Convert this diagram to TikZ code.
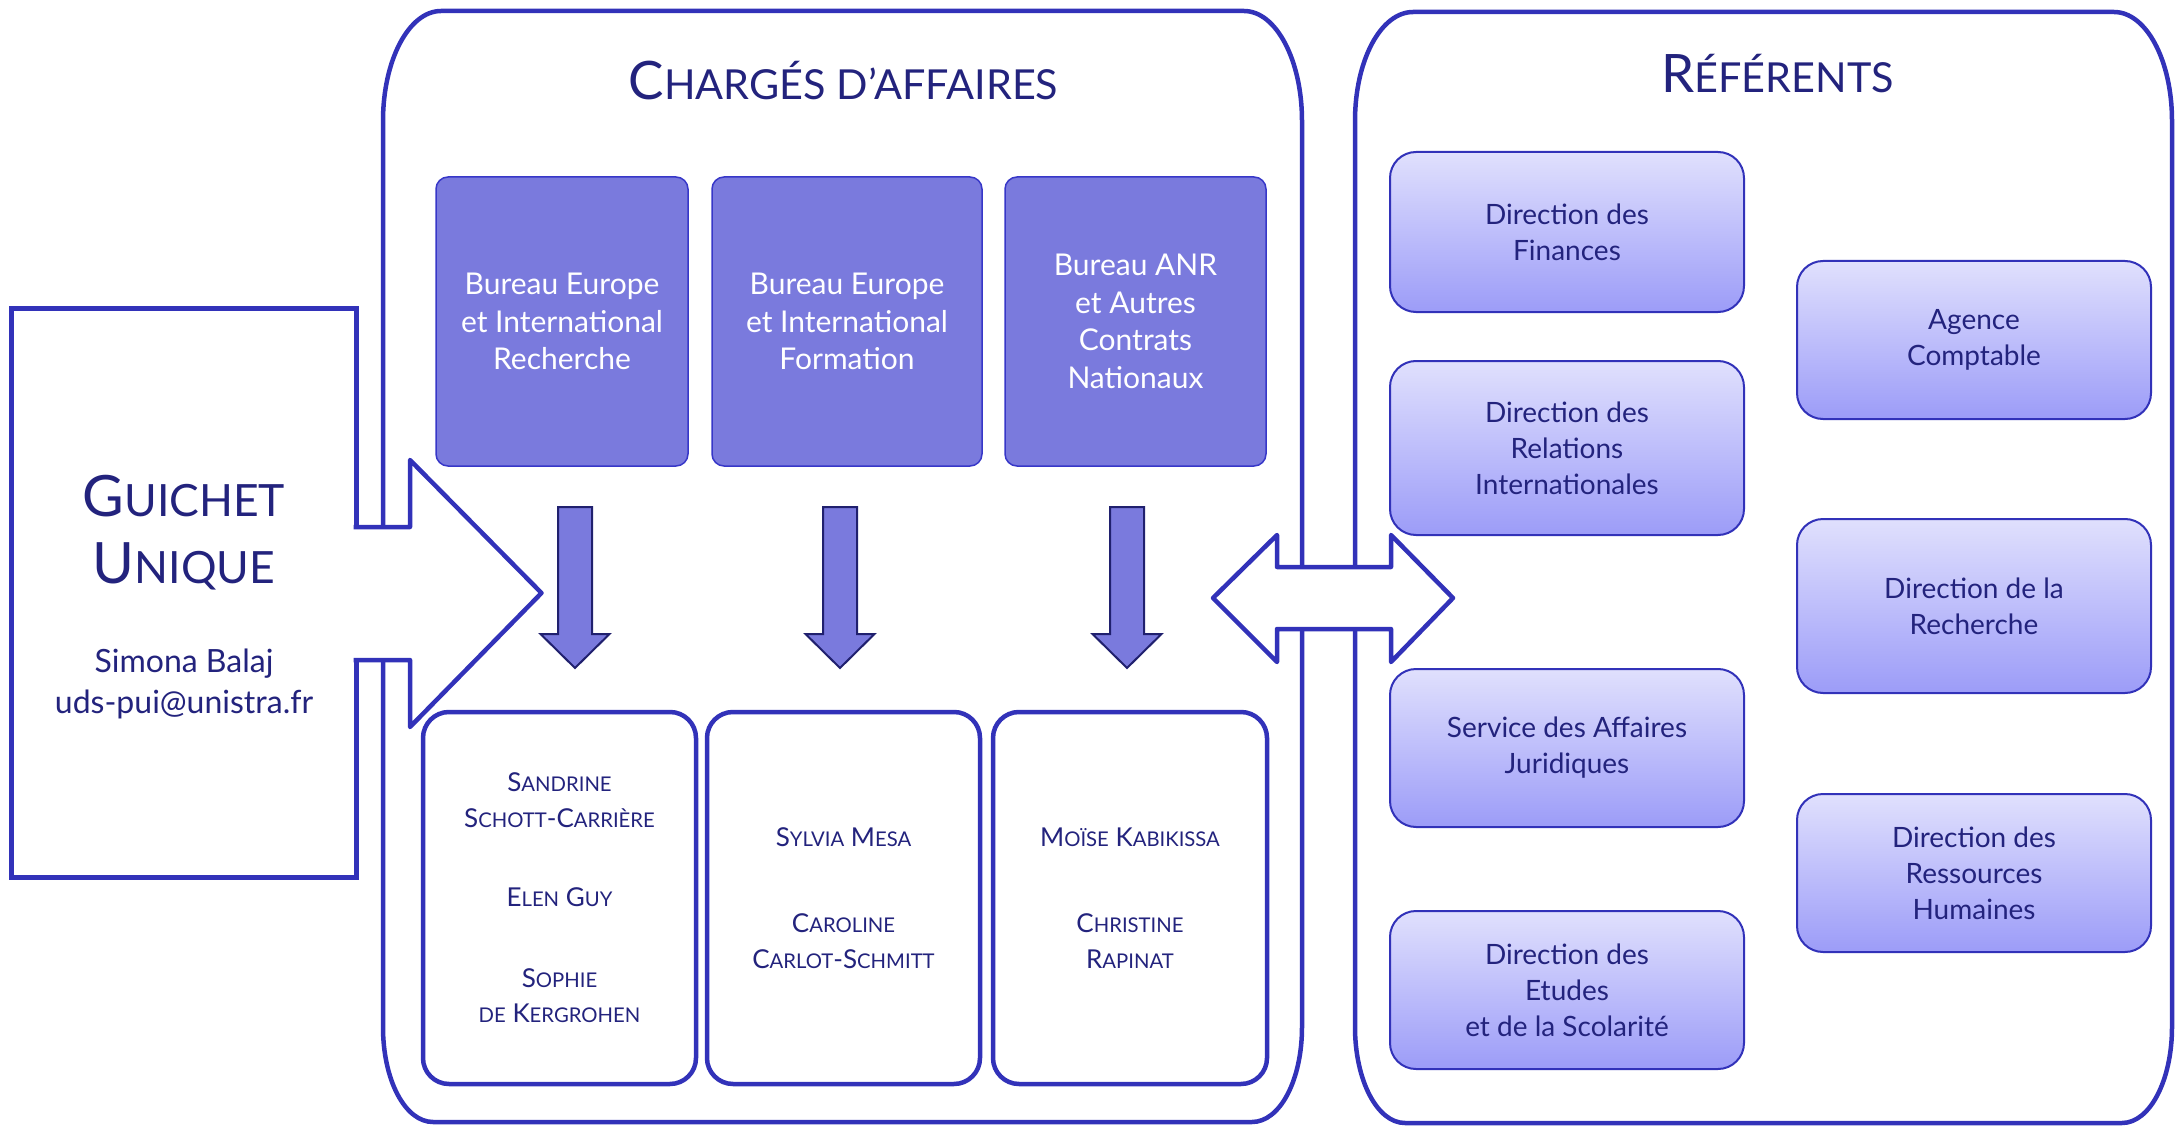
\documentclass[tikz,border=0pt]{standalone}
\usepackage{fontspec}
\setmainfont{Lato}
\newfontfamily\scf[Scale=0.78]{Lato}
\definecolor{edge}{RGB}{50,50,185}
\definecolor{navy}{RGB}{35,35,125}
\definecolor{bur}{RGB}{122,122,221}
\definecolor{buredge}{RGB}{55,55,200}
\definecolor{arredge}{RGB}{32,32,110}
\definecolor{gtop}{RGB}{224,224,253}
\definecolor{gbot}{RGB}{156,156,248}
\tikzset{
  cont/.style={draw=edge, line width=4.5pt},
  bureau/.style={draw=buredge, line width=1.5pt, fill=bur, rounded corners=12pt, align=center,
    text=white, font=\fontsize{30}{37.5}\selectfont, inner sep=0pt},
  namebox/.style={draw=edge, line width=4.5pt, fill=white, rounded corners=26pt, align=center,
    text=navy, font=\fontsize{26}{35.5}\selectfont, inner sep=0pt},
  refbox/.style={draw=edge, line width=2pt, top color=gtop, bottom color=gbot, rounded corners=26pt,
    align=center, text=navy, font=\fontsize{28}{36}\selectfont, inner sep=0pt, minimum width=354pt},
  titletext/.style={text=navy, font=\fontsize{53}{60}\selectfont, anchor=base, inner sep=0pt},
  downarrow/.style={fill=bur, draw=arredge, line width=2pt},
}
\begin{document}
\begin{tikzpicture}[x=1pt,y=-1pt]
\useasboundingbox (0,0) rectangle (2177,1126);
% containers
\draw[cont] (383,121) .. controls (383,60) and (409,11) .. (441,11) -- (1244,11)
  .. controls (1276,11) and (1302,60) .. (1302,121) -- (1302,1027)
  .. controls (1302,1080) and (1280,1122) .. (1252,1122) -- (433,1122)
  .. controls (405,1122) and (383,1080) .. (383,1027) -- cycle;
\draw[cont] (1355,121) .. controls (1355,60) and (1381,12) .. (1413,12) -- (2114,12)
  .. controls (2146,12) and (2172,60) .. (2172,121) -- (2172,1027)
  .. controls (2172,1080) and (2150,1123) .. (2122,1123) -- (1405,1123)
  .. controls (1377,1123) and (1355,1080) .. (1355,1027) -- cycle;
% titles
\node[titletext] (tca) at (843.5,100) {C{\scf HARGÉS D’AFFAIRES}};
\node[titletext] (tref) at (1777.5,93) {R{\scf ÉFÉRENTS}};
% guichet unique
\node[draw=edge, line width=5pt, fill=white, minimum width=345pt, minimum height=569pt, inner sep=0pt] (gbox) at (184,593) {};
\node[text=navy, font=\fontsize{57}{67}\selectfont, anchor=base, inner sep=0pt] (g1) at (184,516) {G{\scf UICHET}};
\node[text=navy, font=\fontsize{57}{67}\selectfont, anchor=base, inner sep=0pt] (g2) at (184,583) {U{\scf NIQUE}};
\node[text=navy, font=\fontsize{32}{40}\selectfont, anchor=base, inner sep=0pt] (g3) at (184,672) {Simona Balaj};
\node[text=navy, font=\fontsize{32}{40}\selectfont, anchor=base, inner sep=0pt] (g4) at (184,713) {uds-pui@unistra.fr};
% big arrow
\fill[white] (350,527) -- (410,527) -- (410,460) -- (541.5,593) -- (410,727) -- (410,660) -- (350,660) -- cycle;
\draw[edge, line width=4.5pt, line join=round] (353.5,527) -- (410,527) -- (410,460) -- (541.5,593) -- (410,727) -- (410,660) -- (353.5,660);
% double arrow
\filldraw[fill=white, draw=edge, line width=4.5pt, line join=round]
  (1213,598) -- (1277,535) -- (1277,567) -- (1391,567) -- (1391,535) -- (1453,598)
  -- (1391,662) -- (1391,629) -- (1277,629) -- (1277,662) -- cycle;
% bureaux
\node[bureau, minimum width=252pt, minimum height=289pt] (b1) at (562,321.5) {Bureau Europe\\et International\\Recherche};
\node[bureau, minimum width=270pt, minimum height=289pt] (b2) at (847,321.5) {Bureau Europe\\et International\\Formation};
\node[bureau, minimum width=261pt, minimum height=289pt] (b3) at (1135.5,321.5) {Bureau ANR\\et Autres\\Contrats\\Nationaux};
% down arrows
\foreach \cx in {575,840,1127}{
  \filldraw[downarrow] ({\cx-17},507) -- ({\cx+17},507) -- ({\cx+17},634) -- ({\cx+34.5},634)
    -- (\cx,668) -- ({\cx-34.5},634) -- ({\cx-17},634) -- cycle;
}
% name boxes
\node[namebox, minimum width=273pt, minimum height=372pt] (n1) at (559.5,898)
  {S{\scf ANDRINE}\\S{\scf CHOTT}-C{\scf ARRIÈRE}\\[44pt]E{\scf LEN} G{\scf UY}\\[45pt]S{\scf OPHIE}\\{\scf DE} K{\scf ERGROHEN}};
\node[namebox, minimum width=273pt, minimum height=372pt] (n2) at (843.5,898)
  {S{\scf YLVIA} M{\scf ESA}\\[51pt]C{\scf AROLINE}\\C{\scf ARLOT}-S{\scf CHMITT}};
\node[namebox, minimum width=274pt, minimum height=372pt] (n3) at (1130,898)
  {M{\scf OÏSE} K{\scf ABIKISSA}\\[51pt]C{\scf HRISTINE}\\R{\scf APINAT}};
% referents
\node[refbox, minimum height=160pt] (fin) at (1567,232) {Direction des\\Finances};
\node[refbox, minimum height=174pt] (rel) at (1567,448) {Direction des\\Relations\\Internationales};
\node[refbox, minimum height=158pt] (jur) at (1567,748) {Service des Affaires\\Juridiques};
\node[refbox, minimum height=158pt] (etu) at (1567,990) {Direction des\\Etudes\\et de la Scolarité};
\node[refbox, minimum height=158pt] (agc) at (1974,340) {Agence\\Comptable};
\node[refbox, minimum height=174pt] (rech) at (1974,606) {Direction de la\\Recherche};
\node[refbox, minimum height=158pt] (drh) at (1974,873) {Direction des\\Ressources\\Humaines};
\end{tikzpicture}
\end{document}
